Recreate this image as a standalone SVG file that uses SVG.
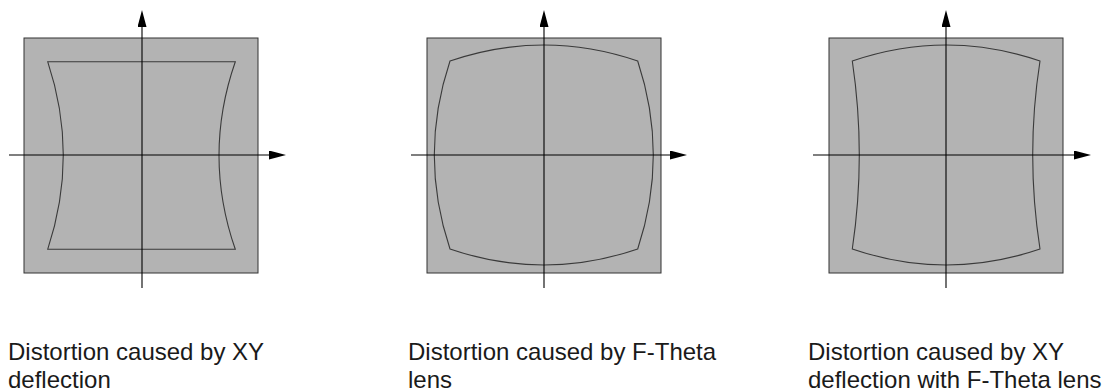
<svg xmlns="http://www.w3.org/2000/svg" width="1109" height="392" viewBox="0 0 1109 392">
  <style>
    .field { fill: #b3b3b3; stroke: #333333; stroke-width: 1; }
    .shape { fill: none; stroke: #3a3a3a; stroke-width: 1.1; }
    .axis { stroke: #000000; stroke-width: 1.1; fill: none; }
    .cap { font-family: "Liberation Sans", Arial, sans-serif; font-size: 24px; fill: #1a1a1a; }
  </style>
  <defs>
    <marker id="arrow" markerUnits="userSpaceOnUse" markerWidth="18" markerHeight="10" refX="0" refY="4.5" orient="auto">
      <path d="M0,0 L17,4.5 L0,9 Z" fill="#000000"/>
    </marker>
  </defs>
  <rect width="1109" height="392" fill="#ffffff"/>

  <g id="panel-xy">
    <rect class="field" x="24" y="38" width="234" height="235"/>
    <path class="shape" d="M47.7,61.7 L235.3,61.7 Q202.7,155.5 235.3,249.3 L47.7,249.3 Q78.9,155.5 47.7,61.7 Z"/>
    <text class="cap" x="8" y="360">Distortion caused by XY</text>
    <text class="cap" x="8" y="388">deflection</text>
  </g>

  <g id="panel-ftheta">
    <rect class="field" x="427" y="38" width="234" height="235"/>
    <path class="shape" d="M450,61 Q543.8,29 637.7,61 Q668.9,155 637.7,249 Q543.8,281 450,249 Q418.6,155 450,61 Z"/>
    <text class="cap" x="408" y="360">Distortion caused by F-Theta</text>
    <text class="cap" x="408" y="388">lens</text>
  </g>

  <g id="panel-combined">
    <rect class="field" x="829" y="38" width="234" height="235"/>
    <path class="shape" d="M852.3,61 Q946.2,29 1040,61 Q1025.4,155 1040,249 Q946.2,281 852.3,249 Q866.3,155 852.3,61 Z"/>
    <text class="cap" x="808" y="360">Distortion caused by XY</text>
    <text class="cap" x="808" y="388">deflection with F-Theta lens</text>
  </g>

  <g id="connectors">
    <line class="axis" x1="142" y1="288" x2="142" y2="27" marker-end="url(#arrow)"/>
    <line class="axis" x1="9" y1="155" x2="269" y2="155" marker-end="url(#arrow)"/>
    <line class="axis" x1="544" y1="288" x2="544" y2="27" marker-end="url(#arrow)"/>
    <line class="axis" x1="411" y1="155" x2="670" y2="155" marker-end="url(#arrow)"/>
    <line class="axis" x1="946" y1="288" x2="946" y2="27" marker-end="url(#arrow)"/>
    <line class="axis" x1="813" y1="155" x2="1074" y2="155" marker-end="url(#arrow)"/>
  </g>
</svg>
